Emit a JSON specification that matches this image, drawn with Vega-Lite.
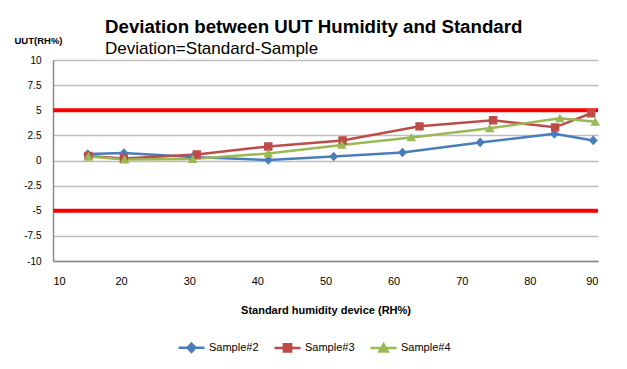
{
  "$schema": "https://vega.github.io/schema/vega-lite/v6.json",
  "width": 545,
  "height": 201,
  "autosize": "none",
  "padding": {"left": 53, "top": 60, "right": 29, "bottom": 108},
  "background": "white",
  "config": {
    "font": "Liberation Sans",
    "view": {"stroke": null},
    "axis": {"labelColor": "#000", "titleColor": "#000", "labelFont": "Liberation Sans", "titleFont": "Liberation Sans"},
    "legend": {
      "orient": "none",
      "direction": "horizontal",
      "legendX": 124,
      "legendY": 273,
      "labelFontSize": 11,
      "labelColor": "#000",
      "labelOffset": 3,
      "columnPadding": 10,
      "symbolSize": 676,
      "symbolStrokeWidth": 2.5
    }
  },
  "title": {
    "text": "Deviation between UUT Humidity and Standard",
    "subtitle": "Deviation=Standard-Sample",
    "anchor": "start",
    "frame": "group",
    "dx": 52,
    "offset": -22,
    "fontSize": 18.7,
    "fontWeight": "bold",
    "color": "#000",
    "subtitleFontSize": 17,
    "subtitleColor": "#000",
    "subtitlePadding": 4
  },
  "datasets": {
    "limits": [{"std": 10, "limit": 5}, {"std": 10, "limit": -5}],
    "samples": [
      {"series": "Sample#2", "std": 15.1, "dev": 0.65},
      {"series": "Sample#2", "std": 20.4, "dev": 0.75},
      {"series": "Sample#2", "std": 30.5, "dev": 0.35},
      {"series": "Sample#2", "std": 41.6, "dev": 0.05},
      {"series": "Sample#2", "std": 51.2, "dev": 0.4},
      {"series": "Sample#2", "std": 61.3, "dev": 0.8},
      {"series": "Sample#2", "std": 72.7, "dev": 1.8},
      {"series": "Sample#2", "std": 83.6, "dev": 2.65},
      {"series": "Sample#2", "std": 89.3, "dev": 2.0},
      {"series": "Sample#3", "std": 15.2, "dev": 0.45},
      {"series": "Sample#3", "std": 20.4, "dev": 0.2},
      {"series": "Sample#3", "std": 31.1, "dev": 0.6},
      {"series": "Sample#3", "std": 41.6, "dev": 1.4},
      {"series": "Sample#3", "std": 52.5, "dev": 2.0},
      {"series": "Sample#3", "std": 63.8, "dev": 3.4},
      {"series": "Sample#3", "std": 74.6, "dev": 4.0},
      {"series": "Sample#3", "std": 83.7, "dev": 3.3},
      {"series": "Sample#3", "std": 89.0, "dev": 4.7},
      {"series": "Sample#4", "std": 15.2, "dev": 0.4},
      {"series": "Sample#4", "std": 20.5, "dev": 0.1},
      {"series": "Sample#4", "std": 30.5, "dev": 0.15},
      {"series": "Sample#4", "std": 41.6, "dev": 0.7},
      {"series": "Sample#4", "std": 52.4, "dev": 1.55},
      {"series": "Sample#4", "std": 62.6, "dev": 2.3},
      {"series": "Sample#4", "std": 74.1, "dev": 3.2},
      {"series": "Sample#4", "std": 84.4, "dev": 4.2},
      {"series": "Sample#4", "std": 89.6, "dev": 3.85}
    ]
  },
  "layer": [
    {
      "data": {"name": "samples"},
      "mark": {"type": "line", "strokeWidth": 2.5},
      "encoding": {
        "x": {
          "field": "std", "type": "quantitative",
          "scale": {"domain": [10, 90], "nice": false},
          "axis": {
            "values": [10, 20, 30, 40, 50, 60, 70, 80, 90],
            "title": "Standard humidity device (RH%)",
            "titleFontSize": 11, "titleFontWeight": "bold", "titlePadding": 18,
            "labelFontSize": 11, "labelPadding": 14,
            "grid": false, "ticks": false,
            "domainColor": "#888", "domainWidth": 1.5
          }
        },
        "y": {
          "field": "dev", "type": "quantitative",
          "scale": {"domain": [-10, 10], "nice": false},
          "axis": {
            "values": [-10, -7.5, -5, -2.5, 0, 2.5, 5, 7.5, 10],
            "labelExpr": "'' + datum.value",
            "title": "UUT(RH%)",
            "titleAngle": 0, "titleAlign": "left", "titleBaseline": "middle",
            "titleX": -39, "titleY": -20,
            "titleFontSize": 9.5, "titleFontWeight": "bold",
            "labelFontSize": 10, "labelPadding": 12,
            "ticks": false,
            "gridColor": "#BDBDBD", "gridWidth": 1.5,
            "domainColor": "#888", "domainWidth": 1.5
          }
        },
        "color": {
          "field": "series", "type": "nominal",
          "scale": {"domain": ["Sample#2", "Sample#3", "Sample#4"], "range": ["#4A7EBB", "#BE4B48", "#98B954"]}
        }
      }
    },
    {
      "data": {"name": "limits"},
      "mark": {"type": "rule", "color": "#FF0000", "strokeWidth": 4},
      "encoding": {
        "y": {
          "field": "limit", "type": "quantitative",
          "axis": {
            "values": [-10, -7.5, -5, -2.5, 0, 2.5, 5, 7.5, 10],
            "labelExpr": "'' + datum.value",
            "title": "UUT(RH%)",
            "titleAngle": 0, "titleAlign": "left", "titleBaseline": "middle",
            "titleX": -39, "titleY": -20,
            "titleFontSize": 9.5, "titleFontWeight": "bold",
            "labelFontSize": 10, "labelPadding": 12,
            "ticks": false,
            "gridColor": "#BDBDBD", "gridWidth": 1.5,
            "domainColor": "#888", "domainWidth": 1.5
          }
        }
      }
    },
    {
      "data": {"name": "samples"},
      "mark": {"type": "point", "filled": true, "opacity": 1, "strokeWidth": 0},
      "encoding": {
        "x": {
          "field": "std", "type": "quantitative",
          "axis": {
            "values": [10, 20, 30, 40, 50, 60, 70, 80, 90],
            "title": "Standard humidity device (RH%)",
            "titleFontSize": 11, "titleFontWeight": "bold", "titlePadding": 18,
            "labelFontSize": 11, "labelPadding": 14,
            "grid": false, "ticks": false,
            "domainColor": "#888", "domainWidth": 1.5
          }
        },
        "y": {
          "field": "dev", "type": "quantitative",
          "axis": {
            "values": [-10, -7.5, -5, -2.5, 0, 2.5, 5, 7.5, 10],
            "labelExpr": "'' + datum.value",
            "title": "UUT(RH%)",
            "titleAngle": 0, "titleAlign": "left", "titleBaseline": "middle",
            "titleX": -39, "titleY": -20,
            "titleFontSize": 9.5, "titleFontWeight": "bold",
            "labelFontSize": 10, "labelPadding": 12,
            "ticks": false,
            "gridColor": "#BDBDBD", "gridWidth": 1.5,
            "domainColor": "#888", "domainWidth": 1.5
          }
        },
        "color": {
          "field": "series", "type": "nominal",
          "legend": {
            "title": null,
            "encode": {
              "symbols": {
                "update": {
                  "stroke": {"scale": "color", "field": "value"},
                  "strokeWidth": {"value": 2.5}
                }
              }
            }
          }
        },
        "shape": {
          "field": "series", "type": "nominal",
          "legend": {"title": null},
          "scale": {"domain": ["Sample#2", "Sample#3", "Sample#4"], "range": ["M-1,0H1M0,-0.32L0.3,0L0,0.32L-0.3,0Z", "M-1,0H1M-0.28,-0.28H0.28V0.28H-0.28Z", "M-1,0H1M0,-0.3L0.32,0.26H-0.32Z"]}
        },
        "size": {"value": 900}
      }
    }
  ]
}
